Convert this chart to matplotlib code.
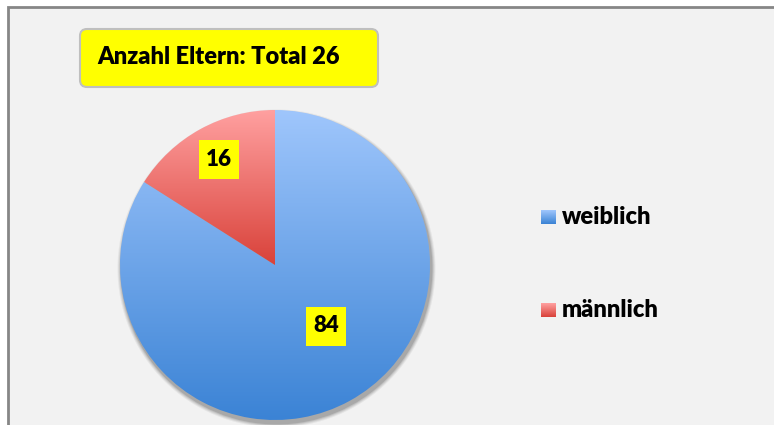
import numpy as np
import matplotlib.pyplot as plt
from matplotlib.patches import Rectangle, FancyBboxPatch, Circle
from matplotlib.colors import LinearSegmentedColormap

plt.rcParams['font.family'] = ['Lato', 'DejaVu Sans']

# Data
labels = ['weiblich', 'männlich']
values = [84, 16]
title = 'Anzahl Eltern: Total 26'

# gradient colours (top -> bottom) per slice
grads = [('#9fc6fc', '#3b83d5'), ('#ffa0a0', '#d9423a')]

W, H = 774, 425
fig = plt.figure(figsize=(W / 100, H / 100), dpi=100)
fig.patch.set_facecolor('white')
ax = fig.add_axes([0, 0, 1, 1])

cx, cy, r = 275, H - 265, 155

wedges, _ = ax.pie(values, startangle=90, counterclock=False,
                   center=(cx, cy), radius=r,
                   wedgeprops=dict(linewidth=0))
ax.set_aspect('equal')
ax.axis('off')

# chart area background + frame
ax.add_patch(Rectangle((7.5, -10), W, H - 6 + 10 - 0.5, facecolor='#f2f2f2',
                       edgecolor='#868686', linewidth=2, zorder=0))

# soft shadow under the pie
for i, a in enumerate([0.05, 0.07, 0.09, 0.12]):
    ax.add_patch(Circle((cx + 1.5, cy - 3.5), r + 4 - i, facecolor='black',
                        edgecolor='none', alpha=a, zorder=1))

# gradient fills clipped to the wedges
for w, (c1, c2) in zip(wedges, grads):
    w.set_facecolor('none')
    w.set_zorder(2)
    bb = w.get_path().get_extents(w.get_transform() + ax.transData.inverted())
    cmap = LinearSegmentedColormap.from_list('g', [c2, c1])
    grad = np.linspace(0, 1, 256).reshape(-1, 1)
    im = ax.imshow(grad, cmap=cmap, origin='lower', aspect='auto',
                   extent=(bb.x0, bb.x1, bb.y0, bb.y1), zorder=2,
                   interpolation='bilinear')
    im.set_clip_path(w)

# value labels
for val, (lx, ly) in zip(values, [(326, 326), (219, 159)]):
    ax.add_patch(Rectangle((lx - 20, H - ly - 19.5), 40, 39,
                           facecolor='#ffff00', edgecolor='none', zorder=4))
    ax.text(lx, H - ly, str(val), fontsize=16, fontweight='heavy',
            ha='center', va='center', zorder=5)

# title box
ax.add_patch(FancyBboxPatch((80, H - 87), 298, 58,
                            boxstyle='round,pad=0,rounding_size=7',
                            facecolor='#ffff00', edgecolor='#bfbfbf',
                            linewidth=1.5, zorder=4))
ax.text(97, H - 57, title, fontsize=17, fontweight='heavy',
        ha='left', va='center', zorder=5)

# legend
for (c1, c2), lab, ly in zip(grads, labels, [217, 310]):
    cmap = LinearSegmentedColormap.from_list('g', [c2, c1])
    grad = np.linspace(0, 1, 32).reshape(-1, 1)
    ax.imshow(grad, cmap=cmap, origin='lower', aspect='auto',
              extent=(541, 556, H - ly - 7, H - ly + 7), zorder=5)
    ax.text(562, H - ly, lab, fontsize=17, fontweight='heavy',
            ha='left', va='center', zorder=5)

ax.set_xlim(0, W)
ax.set_ylim(0, H)

fig.savefig('out.png', dpi=100)
